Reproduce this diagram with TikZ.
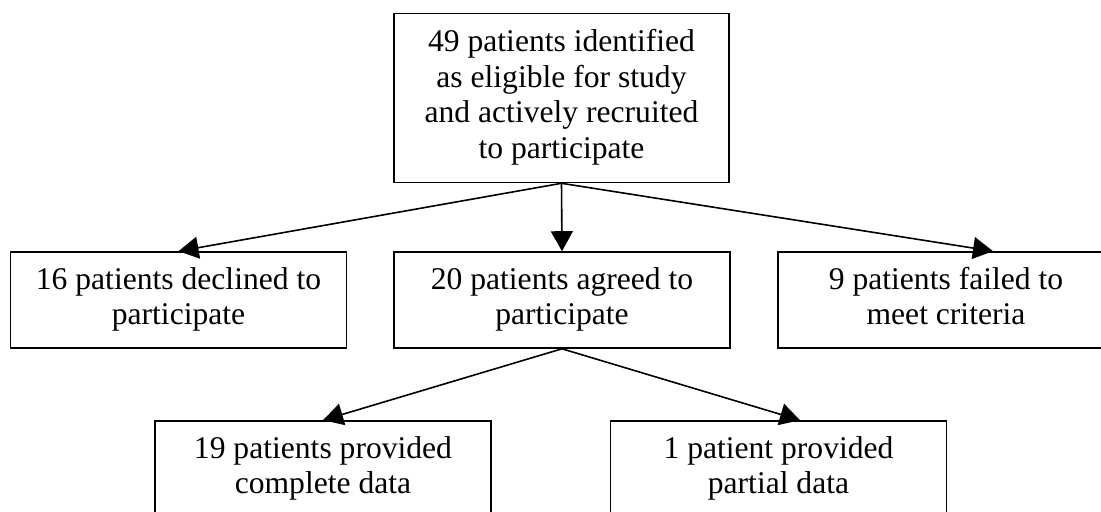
\documentclass[tikz,border=0pt]{standalone}
\usepackage{fontspec}
\setmainfont{Liberation Serif}
\usetikzlibrary{arrows.meta}
\begin{document}
\begin{tikzpicture}[x=0.5pt,y=-0.5pt,
  box/.style={draw=black, line width=0.8pt, rectangle, inner sep=0pt, align=center,
    font=\fontsize{15.8}{17.8}\selectfont, minimum width=168pt, minimum height=48pt},
  conn/.style={-{Triangle[length=10pt,width=11pt]}, line width=0.8pt}]
\useasboundingbox (0,0) rectangle (1101,512);
\clip (0,0) rectangle (1101,512);
\node[box, minimum width=167.5pt, minimum height=84.5pt] (top) at (561.5,98)
  {\strut 49 patients identified\\as eligible for study\\and actively recruited\\to participate\strut};
\node[box] (left) at (178.5,300) {\strut 16 patients declined to\\participate\strut};
\node[box] (mid) at (562,300) {\strut 20 patients agreed to\\participate\strut};
\node[box] (right) at (946,300) {\strut 9 patients failed to\\meet criteria\strut};
\node[box] (bl) at (323,469) {\strut 19 patients provided\\complete data\strut};
\node[box] (br) at (778.5,469) {\strut 1 patient provided\\partial data\strut};
\coordinate (rtip) at ([xshift=23.5pt]right.north);
\coordinate (brtip) at ([xshift=10.75pt]br.north);
\draw[conn] (top.south) -- (left.north);
\draw[conn] (top.south) -- (mid.north);
\draw[conn] (top.south) -- (rtip);
\draw[conn] (mid.south) -- (bl.north);
\draw[conn] (mid.south) -- (brtip);
\end{tikzpicture}
\end{document}
